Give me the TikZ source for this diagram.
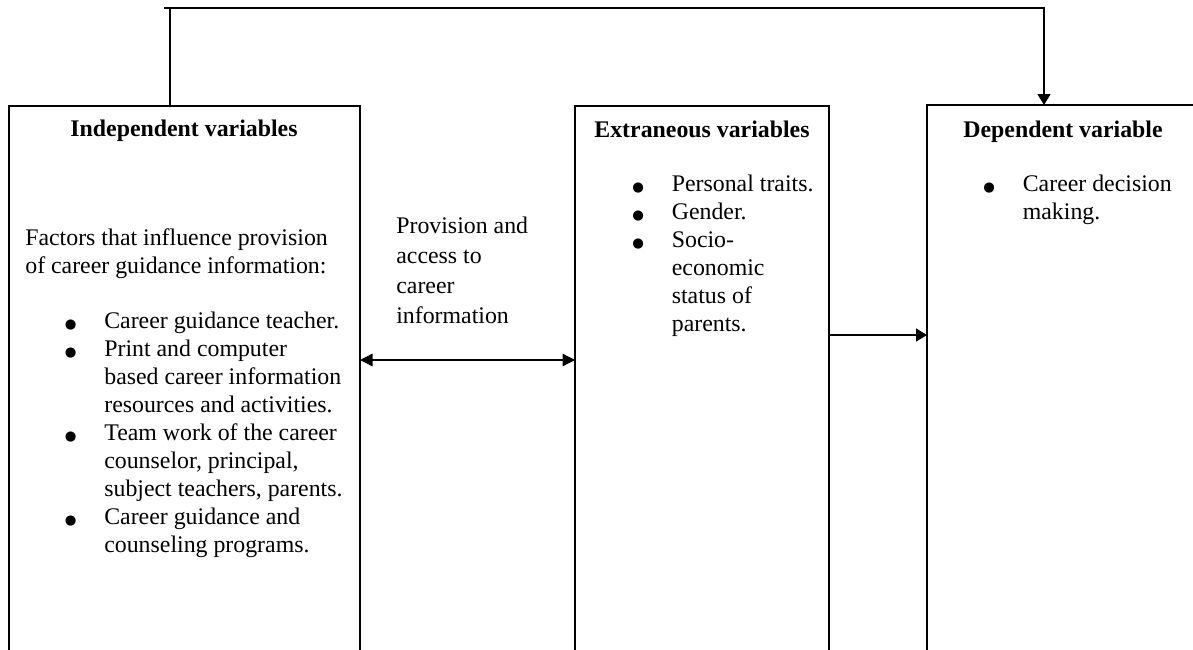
\documentclass[tikz,border=0pt]{standalone}
\usepackage{fontspec}
\setmainfont{Liberation Serif}
\newfontfamily\symfont{DejaVu Sans}
\usepackage{tikz}
\usetikzlibrary{arrows.meta,positioning,calc}

\newcommand{\itm}{\makebox[23.7pt][l]{\symfont\fontsize{8}{8}\selectfont ●}}
\newcommand{\itmx}{\hspace*{23.7pt}}
\newcommand{\lns}[1]{\begin{tabular}[t]{@{}l@{}}#1\end{tabular}}

\begin{document}
\begin{tikzpicture}[
  x=0.6pt, y=-0.6pt,
  varbox/.style={draw, rectangle, line width=0.8pt, anchor=north west, inner sep=0, outer sep=0},
  head/.style={anchor=base, inner sep=0, font=\fontsize{14.3}{16.8}\selectfont\bfseries},
  txt/.style={anchor=base west, inner sep=0, font=\fontsize{14.3}{16.8}\selectfont},
  link/.style={-{Triangle[length=6.6pt,width=7.8pt]}, line width=0.8pt},
  dlink/.style={{Triangle[length=7.5pt,width=7.5pt]}-{Triangle[length=7.5pt,width=7.5pt]}, line width=0.8pt}
]
\clip (0,0) rectangle (1193,649);
% the three boxes
\node[varbox, minimum width=210.6pt, minimum height=333pt] (indep) at (9,106) {};
\node[varbox, minimum width=152.4pt, minimum height=333pt] (extr) at (575,106) {};
\node[varbox, minimum width=163.2pt, minimum height=333pt] (dep) at (927,105) {};

% headings
\node[head] (indephead) at (184,136) {Independent variables};
\node[head] (extrhead) at (702,137) {Extraneous variables};
\node[head] (dephead) at (1063,137) {Dependent variable};

% box contents
\node[txt] (factors) at (25,245) {\lns{Factors that influence provision\\of career guidance information:}};
\node[txt] (indeplist) at (64.5,328) {\lns{\itm Career guidance teacher.\\
  \itm Print and computer\\ \itmx based career information\\ \itmx resources and activities.\\
  \itm Team work of the career\\ \itmx counselor, principal,\\ \itmx subject teachers, parents.\\
  \itm Career guidance and\\ \itmx counseling programs.}};
\node[txt] (extrlist) at (632,191) {\lns{\itm Personal traits.\\ \itm Gender.\\
  \itm Socio-\\ \itmx economic\\ \itmx status of\\ \itmx parents.}};
\node[txt] (deplist) at (983,191) {\lns{\itm Career decision\\ \itmx making.}};
\node[txt, font=\fontsize{14.3}{18}\selectfont] (provlabel) at (396,233) {\lns{Provision and\\access to\\career\\information}};

% connectors
\draw[dlink] (indep.north east) ++(0,254) coordinate (p) -- (p -| extr.west);
\draw[link] (extr.north east) ++(0,229) coordinate (q) -- (q -| dep.west);
\draw[line width=0.8pt] (indep.north west) ++(161,0) -- ++(0,-98);
\draw[link] (indep.north west) ++(155,-98) -| ([xshift=70.2pt]dep.north west);
\end{tikzpicture}
\end{document}
